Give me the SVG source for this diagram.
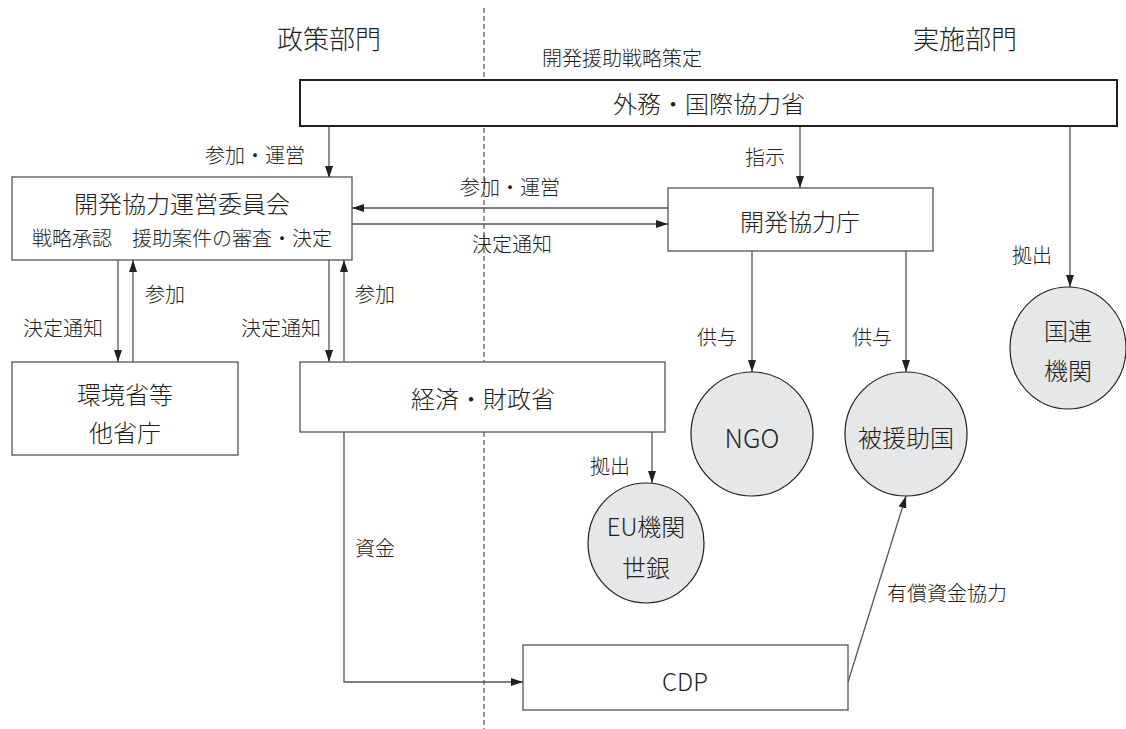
<svg xmlns="http://www.w3.org/2000/svg" width="1126" height="729" viewBox="0 0 1126 729">
<defs>
<style>
text{font-family:"Noto Sans CJK JP","Noto Sans",sans-serif;font-weight:300;fill:#231f20;dominant-baseline:central}
.t24{font-size:24px;text-anchor:middle}
.t26{font-size:26px;text-anchor:middle}
.l20{font-size:20px}
.box{fill:#fff;stroke:#555;stroke-width:1.3}
.circ{fill:#e6e7e8;stroke:#231f20;stroke-width:1.2}
.ln{fill:none;stroke:#555;stroke-width:1.3}
</style>
<marker id="ah" viewBox="0 0 12 8" refX="12" refY="4" markerWidth="12" markerHeight="8" markerUnits="userSpaceOnUse" orient="auto">
<path d="M0,0 L12,4 L0,8 Z" fill="#231f20"/>
</marker>
</defs>
<rect width="1126" height="729" fill="#fff"/>
<line x1="484" y1="8" x2="484" y2="729" stroke="#555" stroke-width="1.2" stroke-dasharray="5,3"/>
<text class="t26" x="329" y="37">政策部門</text>
<text class="t26" x="965" y="37">実施部門</text>
<text class="l20" x="622" y="57" text-anchor="middle">開発援助戦略策定</text>

<g id="connectors">
<line class="ln" x1="329" y1="126" x2="329" y2="178" marker-end="url(#ah)"/>
<line class="ln" x1="800" y1="126" x2="800" y2="188" marker-end="url(#ah)"/>
<line class="ln" x1="1070" y1="126" x2="1070" y2="287" marker-end="url(#ah)"/>
<line class="ln" x1="668" y1="208" x2="352" y2="208" marker-end="url(#ah)"/>
<line class="ln" x1="352" y1="224" x2="668" y2="224" marker-end="url(#ah)"/>
<line class="ln" x1="118" y1="260" x2="118" y2="362" marker-end="url(#ah)"/>
<line class="ln" x1="133" y1="362" x2="133" y2="260" marker-end="url(#ah)"/>
<line class="ln" x1="329" y1="260" x2="329" y2="362" marker-end="url(#ah)"/>
<line class="ln" x1="344" y1="362" x2="344" y2="260" marker-end="url(#ah)"/>
<line class="ln" x1="752" y1="251" x2="752" y2="372" marker-end="url(#ah)"/>
<line class="ln" x1="906" y1="251" x2="906" y2="372" marker-end="url(#ah)"/>
<line class="ln" x1="652" y1="432" x2="652" y2="483" marker-end="url(#ah)"/>
<polyline class="ln" points="344,432 344,682 523,682" marker-end="url(#ah)"/>
<line class="ln" x1="848" y1="682" x2="906" y2="496" marker-end="url(#ah)"/>
<text class="l20" x="305" y="154" text-anchor="end">参加・運営</text>
<text class="l20" x="785" y="156" text-anchor="end">指示</text>
<text class="l20" x="1052" y="254" text-anchor="end">拠出</text>
<text class="l20" x="510" y="186" text-anchor="middle">参加・運営</text>
<text class="l20" x="512" y="243" text-anchor="middle">決定通知</text>
<text class="l20" x="145" y="293">参加</text>
<text class="l20" x="103" y="327" text-anchor="end">決定通知</text>
<text class="l20" x="355" y="293">参加</text>
<text class="l20" x="321" y="327" text-anchor="end">決定通知</text>
<text class="l20" x="737" y="336" text-anchor="end">供与</text>
<text class="l20" x="892" y="336" text-anchor="end">供与</text>
<text class="l20" x="630" y="465" text-anchor="end">拠出</text>
<text class="l20" x="355" y="547">資金</text>
<text class="l20" x="887" y="592">有償資金協力</text>
</g>

<g id="mofa">
<rect x="300" y="80" width="817" height="46" fill="#fff" stroke="#231f20" stroke-width="2"/>
<text class="t24" x="709" y="102">外務・国際協力省</text>
</g>
<g id="committee">
<rect class="box" x="12" y="177" width="340" height="83"/>
<text class="t24" x="182" y="202">開発協力運営委員会</text>
<text x="182" y="237" style="font-size:20px;text-anchor:middle">戦略承認　援助案件の審査・決定</text>
</g>
<g id="agency">
<rect class="box" x="668" y="188" width="265" height="63"/>
<text class="t24" x="800" y="220">開発協力庁</text>
</g>
<g id="env">
<rect class="box" x="12" y="362" width="226" height="93"/>
<text class="t24" x="125" y="393">環境省等</text>
<text class="t24" x="125" y="431">他省庁</text>
</g>
<g id="finance">
<rect class="box" x="300" y="362" width="365" height="70"/>
<text class="t24" x="483" y="397">経済・財政省</text>
</g>
<g id="un">
<ellipse class="circ" cx="1068" cy="348" rx="58" ry="61"/>
<text class="t24" x="1068" y="329">国連</text>
<text class="t24" x="1068" y="369">機関</text>
</g>
<g id="ngo">
<ellipse class="circ" cx="752" cy="434" rx="61" ry="62"/>
<text class="t24" x="752" y="436" style="font-size:26px">NGO</text>
</g>
<g id="recipient">
<ellipse class="circ" cx="906" cy="434" rx="61" ry="62"/>
<text class="t24" x="906" y="436">被援助国</text>
</g>
<g id="eu">
<ellipse class="circ" cx="646" cy="543" rx="58" ry="60"/>
<text class="t24" x="646" y="525">EU機関</text>
<text class="t24" x="646" y="566">世銀</text>
</g>
<g id="cdp">
<rect class="box" x="523" y="645" width="325" height="65"/>
<text class="t24" x="685" y="680">CDP</text>
</g>
</svg>
